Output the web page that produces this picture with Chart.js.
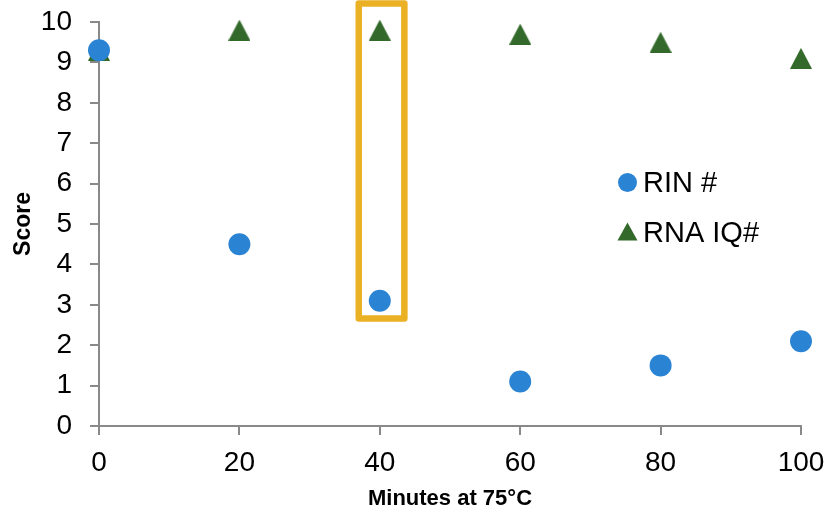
<!DOCTYPE html>
<html>
<head>
<meta charset="utf-8">
<script src="https://cdn.jsdelivr.net/npm/chart.js@4"></script>
<style>
html,body{margin:0;padding:0;background:#fff;}
#wrap{width:831px;height:512px;position:relative;}
</style>
</head>
<body>
<div id="wrap"><canvas id="c" width="831" height="512"></canvas></div>
<script>
const minutes = [0, 20, 40, 60, 80, 100];
const rinValues = [9.3, 4.5, 3.1, 1.1, 1.5, 2.1];
const rnaIqValues = [9.3, 9.8, 9.8, 9.7, 9.5, 9.1];
const seriesLabels = ['RIN #', 'RNA IQ#'];
const xTitle = 'Minutes at 75°C';
const yTitle = 'Score';
const highlight = {x0: 37, x1: 43.5, y0: 2.66, y1: 10.46};

const FONT = 'Arial, "Liberation Sans", sans-serif';
const AXIS = '#898989';
const BLUE = '#2A84D3';
const GREEN = '#33692A';
const YELLOW = '#EBB125';

// triangle marker image (Excel-like: as tall as wide)
const tri = document.createElement('canvas');
tri.width = 22; tri.height = 21;
(function () {
  const c = tri.getContext('2d');
  c.fillStyle = GREEN;
  c.beginPath(); c.moveTo(11, 0); c.lineTo(22, 21); c.lineTo(0, 21); c.closePath(); c.fill();
})();

const boxPlugin = {
  id: 'box',
  afterDatasetsDraw(chart) {
    const {ctx, scales: {x, y}} = chart;
    const l = x.getPixelForValue(highlight.x0), r = x.getPixelForValue(highlight.x1);
    const t = y.getPixelForValue(highlight.y1), b = y.getPixelForValue(highlight.y0);
    ctx.save();
    ctx.strokeStyle = YELLOW;
    ctx.lineWidth = 6.5;
    ctx.lineJoin = 'round';
    ctx.strokeRect(l, t, r - l, b - t);
    ctx.restore();
  }
};

const legendPlugin = {
  id: 'customLegend',
  afterDraw(chart) {
    const ctx = chart.ctx;
    ctx.save();
    ctx.font = '29px ' + FONT;
    ctx.textBaseline = 'alphabetic';
    ctx.textAlign = 'left';
    ctx.fillStyle = BLUE;
    ctx.beginPath(); ctx.arc(627.5, 182.5, 9.5, 0, Math.PI * 2); ctx.fill();
    ctx.fillStyle = '#000';
    ctx.fillText(chart.data.datasets[0].label, 643, 192);
    ctx.fillStyle = GREEN;
    ctx.beginPath(); ctx.moveTo(627.5, 222.5); ctx.lineTo(637.5, 240.5); ctx.lineTo(617.5, 240.5); ctx.closePath(); ctx.fill();
    ctx.fillStyle = '#000';
    ctx.fillText(chart.data.datasets[1].label, 643, 242);
    ctx.restore();
  }
};

new Chart(document.getElementById('c'), {
  type: 'scatter',
  data: {
    datasets: [
      {
        label: seriesLabels[0],
        data: minutes.map((m, i) => ({x: m, y: rinValues[i]})),
        backgroundColor: BLUE, borderColor: BLUE, borderWidth: 0,
        pointStyle: 'circle', pointRadius: 11, pointHoverRadius: 11,
        clip: false
      },
      {
        label: seriesLabels[1],
        data: minutes.map((m, i) => ({x: m, y: rnaIqValues[i]})),
        backgroundColor: GREEN, borderColor: GREEN, borderWidth: 0,
        pointStyle: tri, pointRadius: 11, pointHoverRadius: 11,
        clip: false
      }
    ]
  },
  options: {
    responsive: false,
    animation: false,
    events: [],
    layout: {padding: {top: 22, right: 30, left: 0, bottom: 0}},
    plugins: {legend: {display: false}, tooltip: {enabled: false}},
    scales: {
      x: {
        type: 'linear', min: 0, max: 100,
        ticks: {stepSize: 20, color: '#000', font: {size: 28, family: FONT}, padding: 11, maxRotation: 0},
        grid: {drawOnChartArea: false, drawTicks: true, tickLength: 9, color: AXIS, lineWidth: 2},
        border: {color: AXIS, width: 2},
        title: {display: true, text: xTitle, color: '#000', font: {size: 22, weight: 'bold', family: FONT}, padding: {top: 3, bottom: 0}},
        afterFit(s) { s.height = 86; s.paddingLeft = 0; s.paddingRight = 0; }
      },
      y: {
        type: 'linear', min: 0, max: 10,
        ticks: {stepSize: 1, color: '#000', font: {size: 28, family: FONT}, padding: 18},
        grid: {drawOnChartArea: false, drawTicks: true, tickLength: 9, color: AXIS, lineWidth: 2},
        border: {color: AXIS, width: 2},
        title: {display: true, text: yTitle, color: '#000', font: {size: 23, weight: 'bold', family: FONT}, padding: {top: 10, bottom: 0}},
        afterFit(s) { s.width = 99; s.paddingTop = 0; s.paddingBottom = 0; }
      }
    }
  },
  plugins: [boxPlugin, legendPlugin]
});
</script>
</body>
</html>
